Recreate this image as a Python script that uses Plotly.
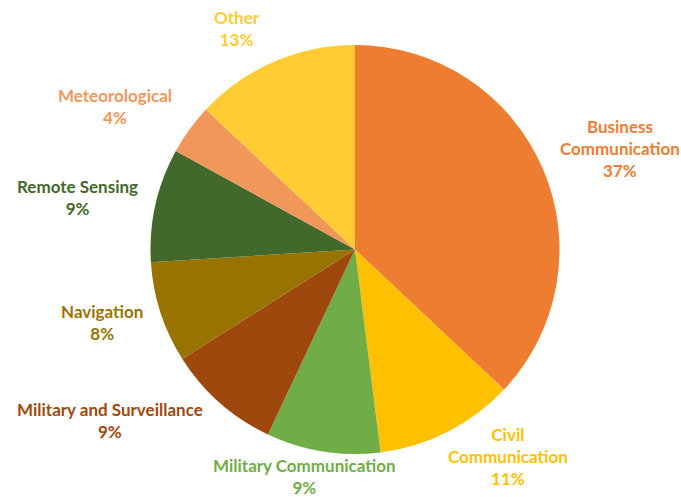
import plotly.graph_objects as go

categories = ["Business Communication", "Civil Communication", "Military Communication",
              "Military and Surveillance", "Navigation", "Remote Sensing",
              "Meteorological", "Other"]
label_lines = ["Business<br>Communication", "Civil<br>Communication", "Military Communication",
               "Military and Surveillance", "Navigation", "Remote Sensing",
               "Meteorological", "Other"]
values = [37, 11, 9, 9, 8, 9, 4, 13]
colors = ["#ED7D31", "#FFC000", "#70AD47", "#9E480E", "#997300", "#43682B", "#F1975A", "#FFCD33"]

W, H = 681, 497
# label centre positions (pixels) of first line
label_pos = [(620, 126), (508, 434), (304, 465), (110, 409), (102, 311), (77, 186), (115, 95), (237, 17)]

fig = go.Figure(go.Pie(
    labels=categories, values=values, sort=False, direction="clockwise", rotation=0,
    marker=dict(colors=colors, line=dict(width=0)),
    textinfo="none", hoverinfo="label+percent", showlegend=False,
    domain=dict(x=[150 / W, 560 / W], y=[1 - 454 / H, 1 - 45 / H]),
))

total = sum(values)
LS = 22.5
for lab, v, c, (px, py) in zip(label_lines, values, colors, label_pos):
    nlines = lab.count("<br>") + 2
    yc = py + (nlines - 1) * LS / 2
    fig.add_annotation(
        x=px / W, y=1 - yc / H, xref="paper", yref="paper",
        text=f"{lab}<br>{round(v / total * 100)}%", showarrow=False,
        font=dict(family="Lato", size=17, color=c, weight="bold"),
        xanchor="center", yanchor="middle", align="center",
    )

fig.update_layout(width=W, height=H, margin=dict(l=0, r=0, t=0, b=0),
                  paper_bgcolor="white", plot_bgcolor="white")
fig.write_html("out.html", config={"displayModeBar": False},
               post_script="document.body.style.margin='0';")
